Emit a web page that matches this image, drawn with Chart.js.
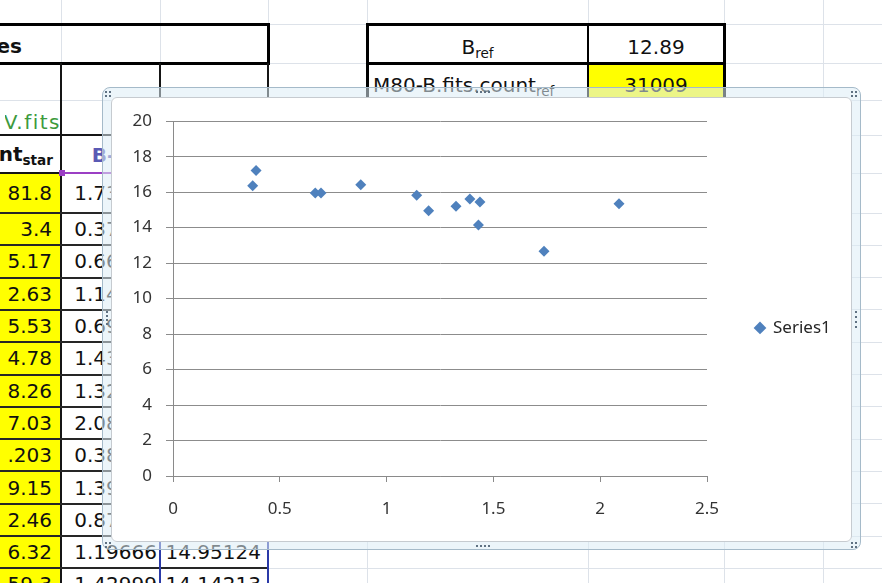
<!DOCTYPE html>
<html>
<head>
<meta charset="utf-8">
<title>B-V against B magnitude</title>
<script src="https://cdn.jsdelivr.net/npm/chart.js@4.4.1/dist/chart.umd.min.js"></script>
<style>
  html, body { margin: 0; padding: 0; background: #fff; width: 882px; height: 583px; overflow: hidden; }
  #sheet { position: absolute; left: 0; top: 0; width: 882px; height: 583px; overflow: hidden;
           font-family: "DejaVu Sans", sans-serif; font-size: 20px; color: #111; }
  #sheet sub { font-size: 0.68em; vertical-align: -0.3em; line-height: 0; }
  #frame { position: absolute; left: 102px; top: 87px; width: 757px; height: 461px;
           border: 1px solid #a5bac9; border-radius: 8px; background: rgba(220, 237, 245, 0.55); }
  #plotBox { position: absolute; left: 111px; top: 97px; width: 741px; height: 445px;
             background: #fff; border-radius: 6px; overflow: hidden; }
  #plotBox canvas { position: absolute; left: 0; top: 0; }
  #plotEdge { position: absolute; left: 111px; top: 97px; width: 739px; height: 443px;
              border: 1px solid #c6cbd0; border-radius: 6px; pointer-events: none; }
  .dot { position: absolute; width: 2px; height: 2px; background: #5f7182; }
</style>
</head>
<body>
<div id="sheet"></div>
<div id="frame"></div>
<div id="plotBox"><canvas id="chart" width="741" height="445"></canvas></div>
<div id="plotEdge"></div>
<div id="handles"></div>

<script>
// ---------------- data ----------------
const bvColour = [1.737, 0.373, 0.666, 1.141, 0.693, 1.437, 1.325, 2.088, 0.389, 1.390, 0.879, 1.19666, 1.42999];
const bMagnitude = [12.67, 16.36, 15.95, 15.82, 15.95, 15.44, 15.20, 15.35, 17.22, 15.61, 16.42, 14.95124, 14.14213];
const vCountText = ['81.8', '3.4', '5.17', '2.63', '5.53', '4.78', '8.26', '7.03', '.203', '9.15', '2.46', '6.32', '59.3'];
const seriesName = 'Series1';
const xTickLabels = ['0', '0.5', '1', '1.5', '2', '2.5'];
const yTickLabels = ['0', '2', '4', '6', '8', '10', '12', '14', '16', '18', '20'];
const xTickRange = [0, 2.5, 0.5];   // min, max, step
const yTickRange = [0, 20, 2];
const bRef = 12.89;
const bCountRef = 31009;

// ---------------- worksheet behind the chart ----------------
const sheet = document.getElementById('sheet');
function el(css, html, parent) {
  const d = document.createElement('div');
  d.style.cssText = 'position:absolute;' + css;
  if (html != null) d.innerHTML = html;
  (parent || sheet).appendChild(d);
  return d;
}
function hLine(x1, x2, y, w, c) { el(`left:${x1}px;top:${y - w / 2}px;width:${x2 - x1}px;height:${w}px;background:${c}`); }
function vLine(x, y1, y2, w, c) { el(`left:${x - w / 2}px;top:${y1}px;width:${w}px;height:${y2 - y1}px;background:${c}`); }
function fill(x1, y1, x2, y2, c) { el(`left:${x1}px;top:${y1}px;width:${x2 - x1}px;height:${y2 - y1}px;background:${c}`); }
function cell(x1, y1, x2, y2, html, align, dy, extra, parent) {
  el(`left:${x1}px;top:${y1 + (dy || 0)}px;width:${x2 - x1}px;height:${y2 - y1}px;display:flex;align-items:center;` +
     `justify-content:${align};white-space:nowrap;${extra || ''}`, `<span>${html}</span>`, parent);
}

const rowEdges = [173, 213];
for (let i = 1; i <= 12; i++) rowEdges.push(213 + i * 32.3);

// light cell gridlines
const gridCols = [61, 160, 268, 367, 588, 724, 823];
const gridRows = [24, 63, 100, 135].concat(rowEdges);
gridCols.forEach(x => vLine(x, 0, 583, 1, '#dde2e9'));
gridRows.forEach(y => hLine(0, 882, y, 1, '#dde2e9'));

// yellow count cells
for (let i = 0; i < vCountText.length; i++) fill(-5, rowEdges[i], 61, rowEdges[i + 1], '#ffff00');
fill(588, 63, 724, 100, '#ffff00');

// table borders
hLine(-5, 269.5, 24, 3, '#000');
hLine(-5, 269.5, 63, 3, '#000');
vLine(268, 22.5, 64.5, 3, '#000');
vLine(61, 63, 600, 2, '#151515');
vLine(160, 63, 173, 2, '#151515');
vLine(268, 63, 173, 2, '#151515');
hLine(-5, 268, 135, 2, '#151515');
hLine(-5, 61, 173, 2, '#151515');
for (let i = 1; i < rowEdges.length; i++) hLine(-5, 268, rowEdges[i], 2, '#262626');
hLine(61, 160, 173, 2, '#9b3fc4');
hLine(160, 268, 173, 2, '#2b3aa8');
vLine(160, 173, 600, 2, '#2b3aa8');
vLine(268, 173, 600, 2, '#2b3aa8');
fill(59, 170, 65, 176, '#9b3fc4');

hLine(365.5, 725.5, 24, 3, '#000');
hLine(367, 724, 63, 3, '#000');
vLine(367, 24, 100, 3, '#000');
vLine(588, 24, 100, 2, '#000');
vLine(724, 24, 100, 3, '#000');

// cell texts
cell(-200, 24, 22, 63, '<b>Magnitudes</b>', 'flex-end', 2);
cell(367, 24, 588, 63, 'B<sub>ref</sub>', 'center', 3);
cell(588, 24, 724, 63, bRef.toFixed(2), 'center', 3);
cell(373, 63, 588, 100, 'M80-B.fits.count<sub>ref</sub>', 'flex-start', 3);
cell(588, 63, 724, 100, String(bCountRef), 'center', 3);
// the file-name cell spills left beyond the visible column, so it is clipped at the pane edge
const paneClip = el('left:5px;top:100px;width:56px;height:35px;overflow:hidden');
cell(-200, 0, 56, 35, 'M80-V.fits', 'flex-end', 4, 'color:#3d9a3d;letter-spacing:1.5px', paneClip);
cell(-200, 135, 53, 173, '<b>count<sub>star</sub></b>', 'flex-end', 0);
cell(61, 135, 160, 173, '<b>B-V</b>', 'center', 1, 'color:#5a5ab4');
for (let i = 0; i < vCountText.length; i++) {
  const t = rowEdges[i], b = rowEdges[i + 1];
  cell(-60, t, 52, b, vCountText[i], 'flex-end', 0);
  cell(61, t, 157, b, bvColour[i].toFixed(5), 'flex-end', 0);
  cell(160, t, 261, b, bMagnitude[i].toFixed(5), 'flex-end', 0);
}

// selection handles on the chart frame
const handles = document.getElementById('handles');
function dot(x, y) {
  const d = document.createElement('div');
  d.className = 'dot';
  d.style.left = x + 'px'; d.style.top = y + 'px';
  handles.appendChild(d);
}
[[105, 91], [109, 91], [105, 95], [109, 95]].forEach(p => dot(p[0], p[1]));
[[851, 91], [855, 91], [851, 95], [855, 95]].forEach(p => dot(p[0], p[1]));
[[105, 542], [109, 542], [105, 546], [109, 546]].forEach(p => dot(p[0], p[1]));
[[851, 542], [855, 542], [851, 546], [855, 546]].forEach(p => dot(p[0], p[1]));
[311, 315, 319, 323].forEach(y => dot(106, y));
[311, 316, 321, 326].forEach(y => dot(855, y));
[476, 480, 484, 488].forEach(x => dot(x, 91));
[476, 480, 484, 488].forEach(x => dot(x, 545));

// ---------------- chart ----------------
const W = 741, H = 445;
const fontFamily = '"Noto Sans", sans-serif';
const labelFont = { family: fontFamily, size: 17, lineHeight: 1.2 };
Chart.defaults.font.family = fontFamily;

// plot rectangle inside the canvas
const plotLeft = 62, plotRight = 596, plotTop = 22.5, plotBottom = 379;
const xTickLen = 6, xTickPad = 17;
const markerBox = 9, legendGap = 48.5;

const meter = document.createElement('canvas').getContext('2d');
meter.font = `${labelFont.size}px "Noto Sans"`;
const legendItemW = markerBox + labelFont.size / 2 + meter.measureText(seriesName).width;
const padRight = W - plotRight - legendGap - legendItemW - 10;
// a horizontal scale reserves its tick padding on both sides of the labels
const padBottom = H - plotBottom - (xTickLen + labelFont.size * labelFont.lineHeight + 2 * xTickPad);

const points = bvColour.map((x, i) => ({ x: x, y: bMagnitude[i] }));

new Chart(document.getElementById('chart'), {
  type: 'scatter',
  data: {
    datasets: [{
      label: seriesName,
      data: points,
      pointStyle: 'rectRot',
      pointRadius: 5.5,
      pointHoverRadius: 5.5,
      backgroundColor: '#4f81bd',
      borderColor: '#4f81bd',
      borderWidth: 0
    }]
  },
  options: {
    responsive: false,
    animation: false,
    devicePixelRatio: 1,
    layout: { padding: { left: 0, top: plotTop, right: padRight, bottom: padBottom } },
    plugins: {
      legend: {
        position: 'right',
        labels: {
          usePointStyle: true,
          boxWidth: markerBox,
          boxHeight: markerBox,
          padding: legendGap,
          font: labelFont,
          color: '#262626'
        }
      },
      tooltip: { enabled: false }
    },
    scales: {
      x: {
        type: 'linear',
        min: xTickRange[0],
        max: xTickRange[1],
        ticks: {
          stepSize: xTickRange[2], padding: xTickPad, font: labelFont, color: '#333',
          callback: (value, index) => xTickLabels[index]
        },
        grid: { drawOnChartArea: false, drawTicks: true, tickLength: xTickLen, color: '#8a8a8a' },
        border: { color: '#8a8a8a' }
      },
      y: {
        min: yTickRange[0],
        max: yTickRange[1],
        ticks: {
          stepSize: yTickRange[2], padding: 14, font: labelFont, color: '#333',
          callback: (value, index) => yTickLabels[index]
        },
        grid: { color: '#8c8c8c', tickLength: 7 },
        border: { color: '#8a8a8a' },
        afterFit(scale) { scale.width = plotLeft; }
      }
    }
  }
});
</script>
</body>
</html>
